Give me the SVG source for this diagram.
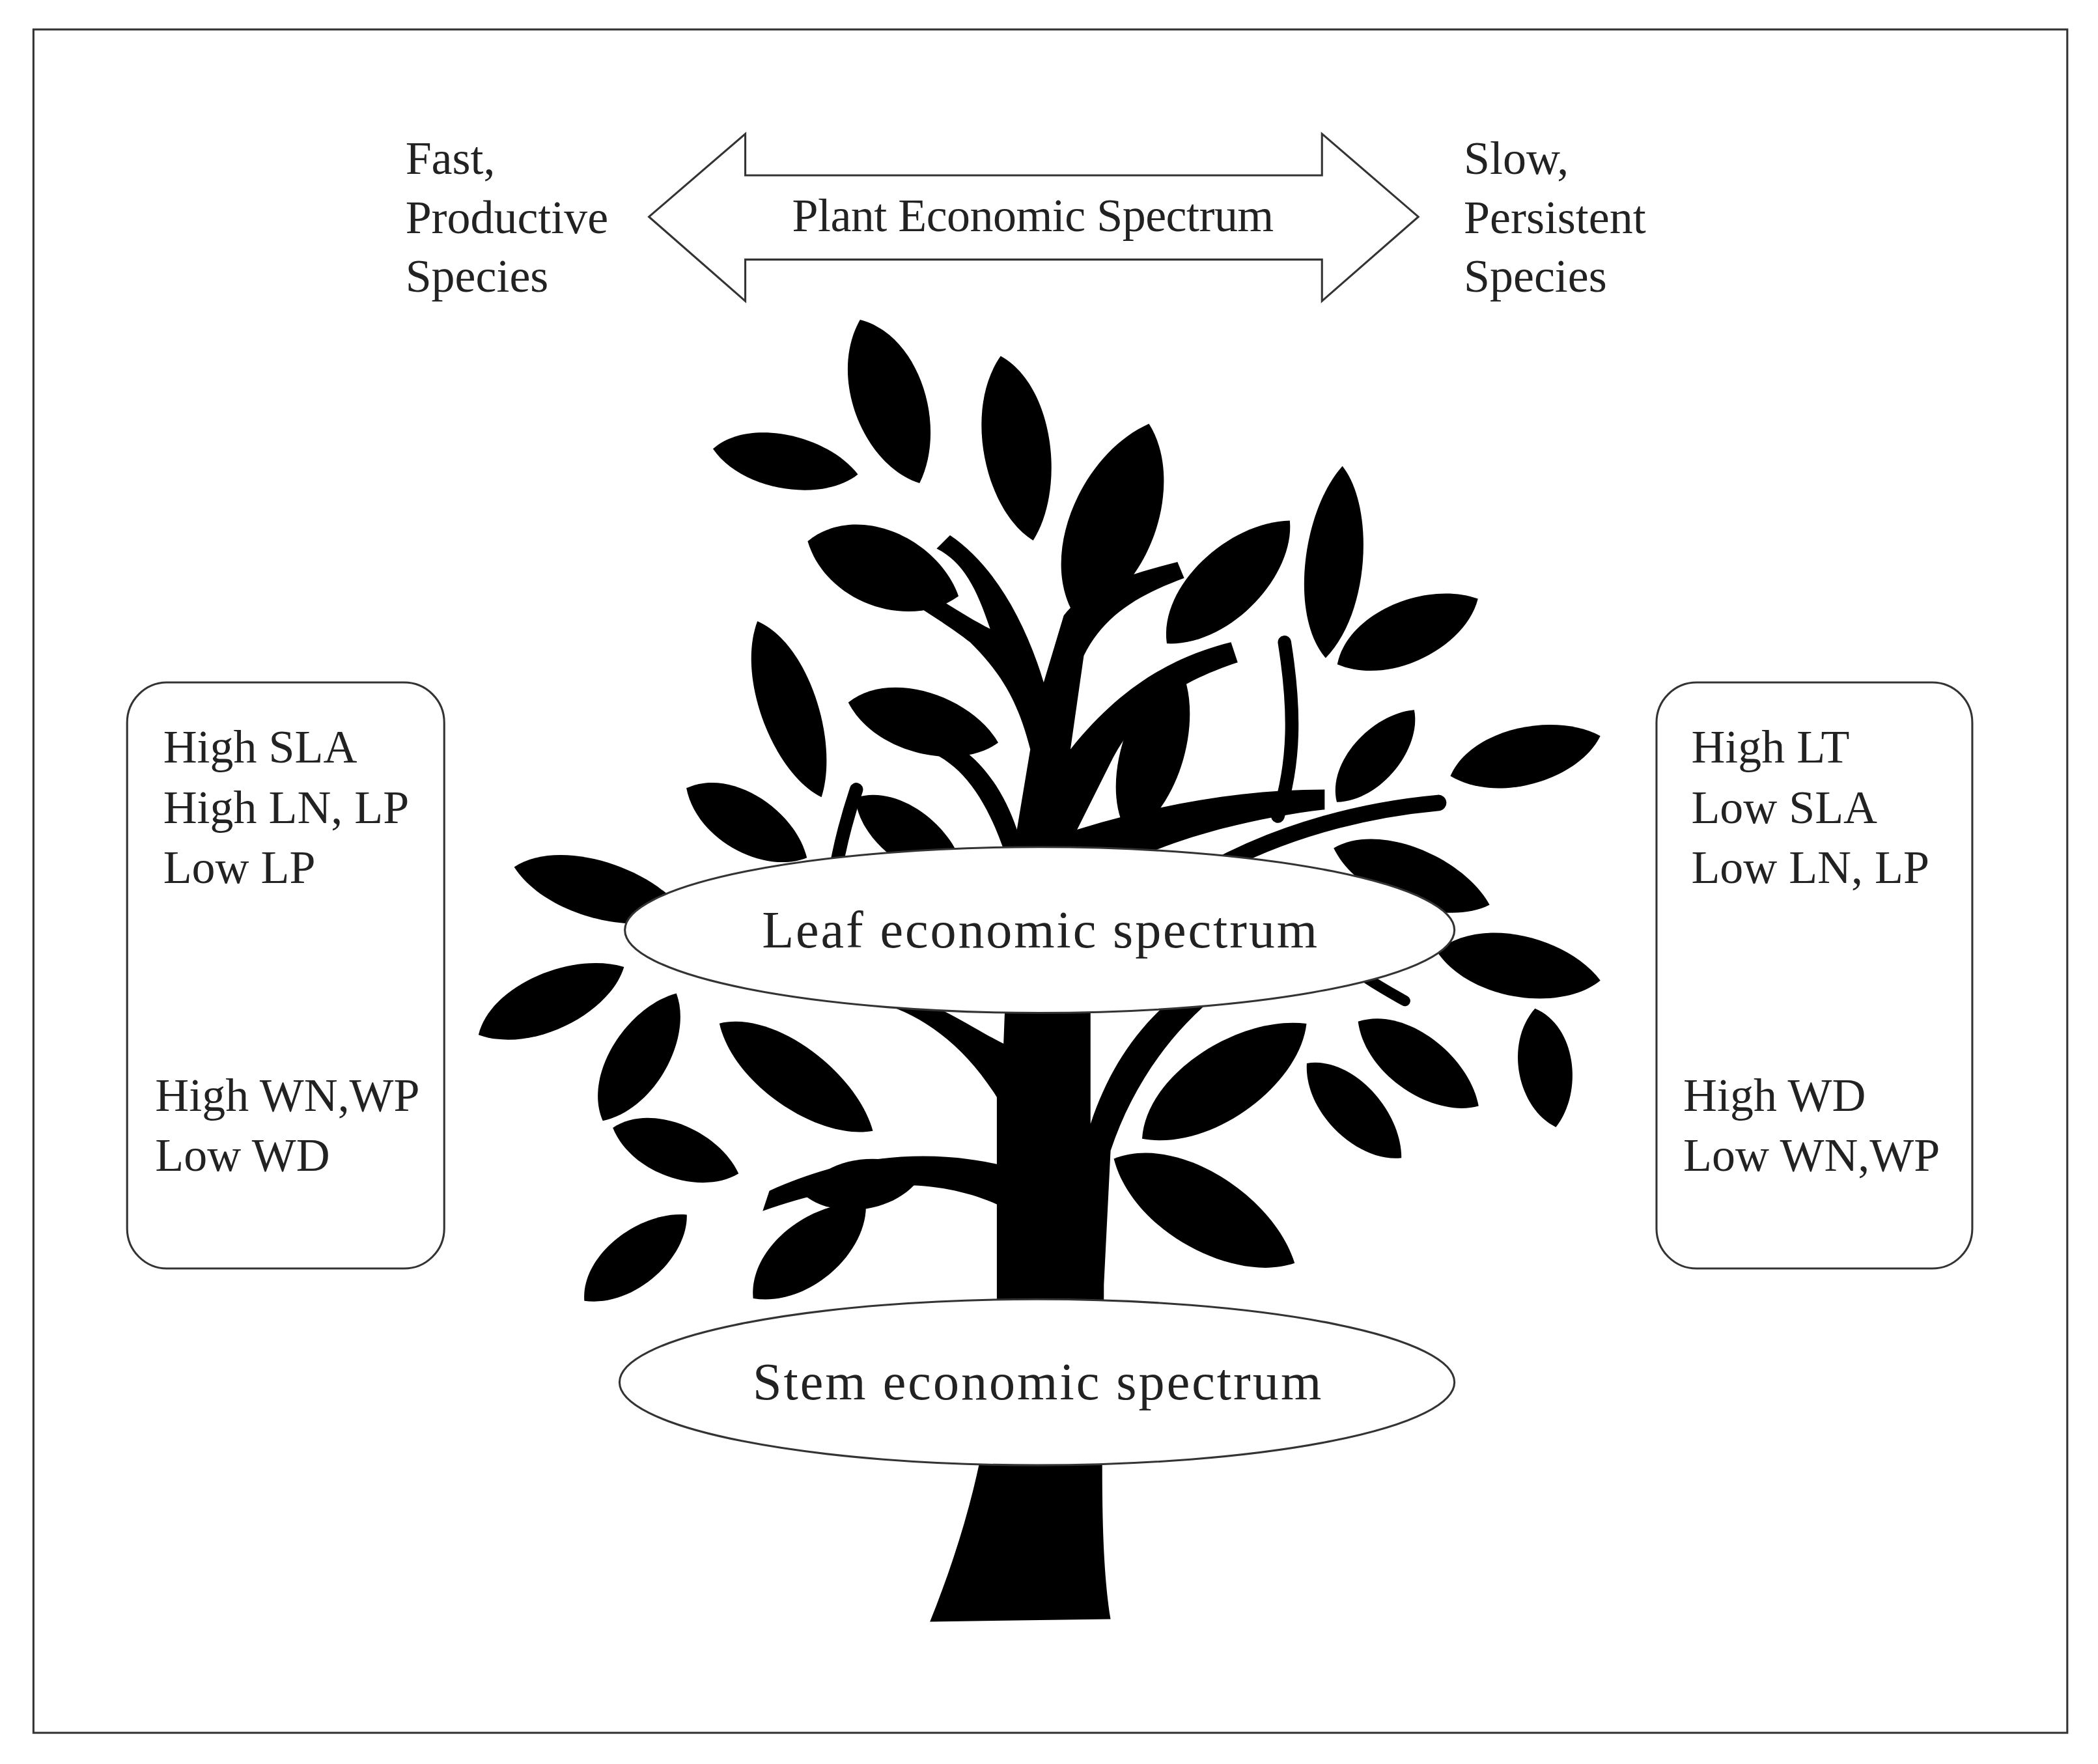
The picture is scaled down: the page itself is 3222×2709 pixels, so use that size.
<svg xmlns="http://www.w3.org/2000/svg" width="3222" height="2709" viewBox="0 0 3222 2709">
<style>
text{font-family:"Liberation Serif","Times New Roman",serif;fill:#222;font-size:35px}
.big{font-size:39px}
.box{fill:#fff;stroke:#333;stroke-width:1.5}
.br{fill:none;stroke:#000;stroke-linecap:round}
</style>
<defs>
<path id="leaf" d="M-1,0 C-0.6,-1 0.5,-0.9 1,0 C0.6,0.9 -0.5,1 -1,0Z" fill="#000"/>
</defs>
<rect width="3222" height="2709" fill="#fff"/>
<g transform="scale(2.0549)">
<rect x="25" y="22" width="1520" height="1273" fill="#fff" stroke="#333" stroke-width="1.5"/>
<g id="tree">
<path d="M695,1212 C720,1150 740,1080 745,1000 L745,900 C700,880 640,880 570,905 L575,890 C640,860 700,860 745,870 L745,820 C720,780 690,760 660,750 L670,740 C700,750 730,770 750,780 L755,650 C740,600 720,570 690,560 L700,550 C730,560 750,590 760,620 L770,560 C760,520 745,500 725,480 C700,460 660,440 650,425 L660,420 C690,440 720,460 740,470 C730,440 720,420 700,410 L710,400 C740,420 765,460 780,510 L795,460 C810,440 840,430 880,420 L885,432 C850,445 825,460 810,490 L800,560 C840,510 880,490 920,480 L925,495 C880,510 850,530 830,570 L805,620 C870,600 930,590 990,590 L990,605 C930,612 860,630 815,660 L815,840 C835,780 870,740 940,705 L945,720 C890,750 850,800 830,860 L825,960 C825,1050 820,1150 830,1210 Z" fill="#000"/>
<path class="br" d="M960,480 C968,530 968,570 955,610" stroke-width="10"/>
<path class="br" d="M640,590 C630,620 620,660 620,700" stroke-width="10"/>
<path class="br" d="M905,650 C960,620 1020,605 1075,600" stroke-width="12"/>
<path class="br" d="M1020,730 C1035,740 1045,745 1050,748" stroke-width="8"/>
<use href="#leaf" transform="translate(665,300) rotate(70) scale(65,38)"/>
<use href="#leaf" transform="translate(760,335) rotate(80) scale(70,35)"/>
<use href="#leaf" transform="translate(587,345) rotate(10) scale(55,28)"/>
<use href="#leaf" transform="translate(660,425) rotate(20) scale(60,40)"/>
<use href="#leaf" transform="translate(832,390) rotate(-70) scale(78,45)"/>
<use href="#leaf" transform="translate(918,435) rotate(-45) scale(65,35)"/>
<use href="#leaf" transform="translate(997,420) rotate(-85) scale(72,30)"/>
<use href="#leaf" transform="translate(1052,472) rotate(-25) scale(58,32)"/>
<use href="#leaf" transform="translate(590,530) rotate(70) scale(70,30)"/>
<use href="#leaf" transform="translate(690,540) rotate(15) scale(58,32)"/>
<use href="#leaf" transform="translate(862,560) rotate(-75) scale(68,33)"/>
<use href="#leaf" transform="translate(1140,565) rotate(-15) scale(58,30)"/>
<use href="#leaf" transform="translate(1028,565) rotate(-50) scale(45,25)"/>
<use href="#leaf" transform="translate(448,665) rotate(15) scale(66,30)"/>
<use href="#leaf" transform="translate(558,615) rotate(30) scale(52,30)"/>
<use href="#leaf" transform="translate(680,625) rotate(35) scale(50,28)"/>
<use href="#leaf" transform="translate(1055,655) rotate(20) scale(62,30)"/>
<use href="#leaf" transform="translate(1135,722) rotate(10) scale(62,32)"/>
<use href="#leaf" transform="translate(412,748) rotate(-25) scale(60,30)"/>
<use href="#leaf" transform="translate(478,790) rotate(-60) scale(55,30)"/>
<use href="#leaf" transform="translate(595,805) rotate(35) scale(70,32)"/>
<use href="#leaf" transform="translate(1060,795) rotate(35) scale(55,30)"/>
<use href="#leaf" transform="translate(1155,798) rotate(80) scale(45,28)"/>
<use href="#leaf" transform="translate(915,808) rotate(-35) scale(75,38)"/>
<use href="#leaf" transform="translate(505,860) rotate(20) scale(50,28)"/>
<use href="#leaf" transform="translate(475,940) rotate(-40) scale(50,28)"/>
<use href="#leaf" transform="translate(605,935) rotate(-40) scale(55,32)"/>
<use href="#leaf" transform="translate(900,905) rotate(30) scale(78,40)"/>
<use href="#leaf" transform="translate(1012,830) rotate(45) scale(50,28)"/>
<use href="#leaf" transform="translate(645,885) rotate(-10) scale(45,26)"/>
</g>
<g id="connectors">
<path id="arrow" d="M485,162 L557,100 L557,131 L988,131 L988,100 L1060,162 L988,225 L988,194 L557,194 L557,225 Z" fill="#fff" stroke="#333" stroke-width="1.5"/>
</g>
<text x="772" y="173" text-anchor="middle" textLength="360">Plant Economic Spectrum</text>
<g id="fast"><text x="303" y="130">Fast,</text><text x="303" y="174">Productive</text><text x="303" y="218">Species</text></g>
<g id="slow"><text x="1094" y="130">Slow,</text><text x="1094" y="174">Persistent</text><text x="1094" y="218">Species</text></g>
<g id="leftbox"><rect class="box" x="95" y="510" width="237" height="438" rx="30"/>
<text x="122" y="570">High SLA</text><text x="122" y="615">High LN, LP</text><text x="122" y="660">Low LP</text>
<text x="116" y="830">High WN,WP</text><text x="116" y="875">Low WD</text></g>
<g id="rightbox"><rect class="box" x="1238" y="510" width="236" height="438" rx="30"/>
<text x="1264" y="570">High LT</text><text x="1264" y="615">Low SLA</text><text x="1264" y="660">Low LN, LP</text>
<text x="1258" y="830">High WD</text><text x="1258" y="875">Low WN,WP</text></g>
<g id="leaf-es"><ellipse class="box" cx="777" cy="695" rx="310" ry="62"/><text class="big" x="777" y="708" text-anchor="middle" textLength="415">Leaf economic spectrum</text></g>
<g id="stem-es"><ellipse class="box" cx="775" cy="1033" rx="312" ry="62"/><text class="big" x="775" y="1046" text-anchor="middle" textLength="425">Stem economic spectrum</text></g>
</g>
</svg>
